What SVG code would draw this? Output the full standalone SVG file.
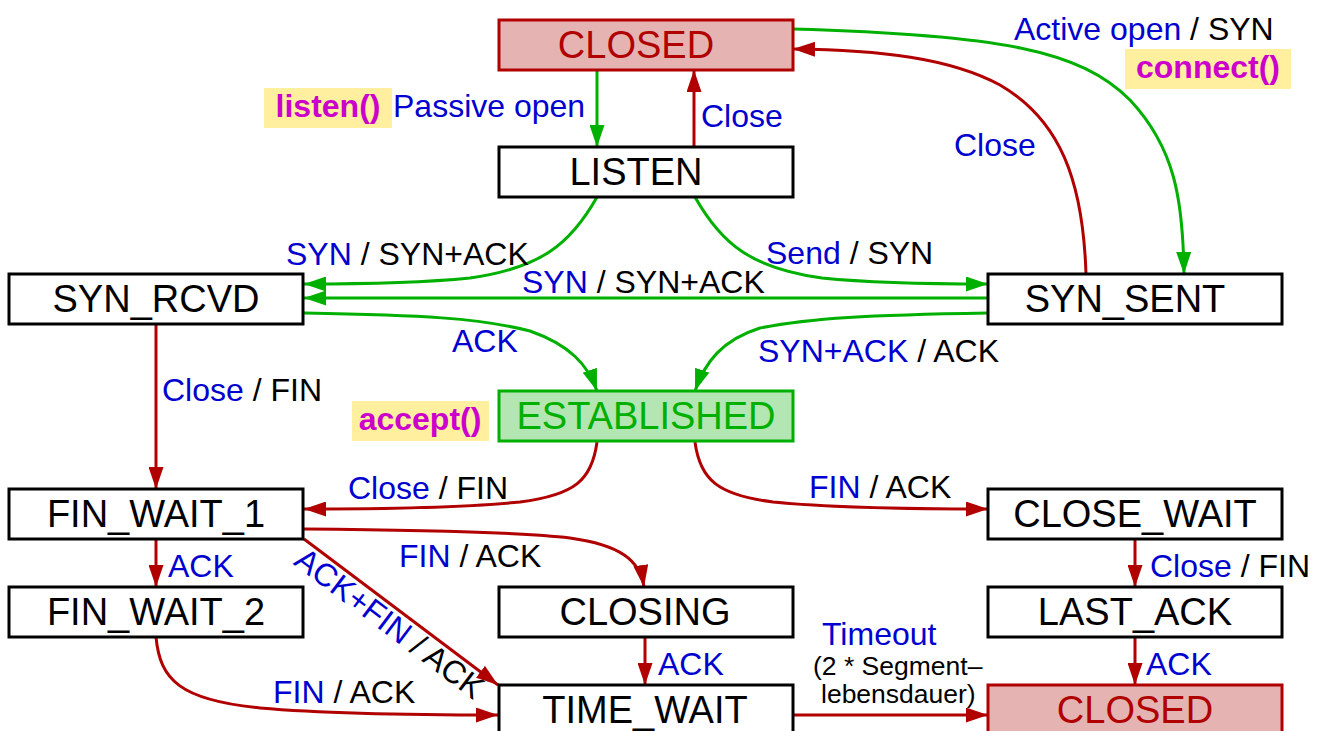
<svg xmlns="http://www.w3.org/2000/svg" width="1329" height="731" viewBox="0 0 1329 731">
  <style>
    text { font-family: "Liberation Sans", Arial, Helvetica, sans-serif; }
    .state { fill: #ffffff; stroke: #000000; stroke-width: 3; }
    .closed { fill: #e6b3b3; stroke: #b00000; stroke-width: 3; }
    .est { fill: #b3e6b3; stroke: #00b000; stroke-width: 3; }
    .name { font-size: 38px; fill: #000000; text-anchor: middle; }
    .name-closed { fill: #b00000; }
    .name-est { fill: #00b000; }
    .lbl { font-size: 32px; fill: #000000; }
    .ev { fill: #0000d0; }
    .api { font-size: 32px; font-weight: bold; fill: #cc00cc; text-anchor: middle; }
    .hl { fill: #ffef9f; }
    .small { font-size: 26.5px; fill: #000000; }
    .red { fill: none; stroke: #b00000; stroke-width: 3; marker-end: url(#ahRed); }
    .green { fill: none; stroke: #00b000; stroke-width: 3; marker-end: url(#ahGreen); }
  </style>
  <defs>
    <marker id="ahRed" markerUnits="userSpaceOnUse" markerWidth="22" markerHeight="15" refX="22" refY="7.5" orient="auto">
      <path d="M0,0 L22,7.5 L0,15 z" fill="#b00000"/>
    </marker>
    <marker id="ahGreen" markerUnits="userSpaceOnUse" markerWidth="22" markerHeight="15" refX="22" refY="7.5" orient="auto">
      <path d="M0,0 L22,7.5 L0,15 z" fill="#00b000"/>
    </marker>
  </defs>

  <rect width="1329" height="731" fill="#ffffff"/>

  <!-- transitions -->
  <g id="connectors">
    <path class="green" d="M597,70 L597,147"/>
    <path class="red" d="M694,147 L694,70"/>
    <path class="green" d="M793,29 C1000,35 1080,50 1130,100 C1175,148 1183,200 1184,274"/>
    <path class="red" d="M1086,274 C1083,180 1060,120 1000,85 C950,58 880,50 793,49"/>
    <path class="green" d="M597,197 C570,245 540,268 470,278 C420,283 360,284 304,284"/>
    <path class="green" d="M695,197 C722,245 752,268 822,278 C872,283 930,284 988,284"/>
    <path class="green" d="M988,298 L304,298"/>
    <path class="green" d="M304,313 C420,315 480,318 530,331 C570,345 588,365 597,391"/>
    <path class="green" d="M988,313 C870,315 810,318 760,328 C722,340 705,362 695,391"/>
    <path class="red" d="M156,323 L156,489"/>
    <path class="red" d="M597,442 C592,480 575,495 520,502 C470,507 380,509 304,509"/>
    <path class="red" d="M695,442 C700,480 718,495 773,502 C823,507 910,509 988,509"/>
    <path class="red" d="M156,539 L156,587"/>
    <path class="red" d="M304,529 C420,530 520,532 570,538 C620,545 640,560 644,587"/>
    <path class="red" d="M304,539 L498,685"/>
    <path class="red" d="M156,637 C160,680 180,700 260,708 C330,714 420,715 498,715"/>
    <path class="red" d="M645,637 L645,685"/>
    <path class="red" d="M793,715 L988,715"/>
    <path class="red" d="M1135,539 L1135,587"/>
    <path class="red" d="M1135,637 L1135,685"/>
  </g>

  <!-- transition labels -->
  <g id="labels">
    <rect class="hl" x="264" y="88" width="128" height="40"/>
    <text class="api" x="328" y="117">listen()</text>
    <text class="lbl ev" x="393" y="117">Passive open</text>
    <text class="lbl ev" x="701" y="127">Close</text>
    <text class="lbl" x="1014" y="40"><tspan class="ev">Active open</tspan> / SYN</text>
    <rect class="hl" x="1125" y="49" width="166" height="40"/>
    <text class="api" x="1208" y="78">connect()</text>
    <text class="lbl ev" x="954" y="156">Close</text>
    <text class="lbl" x="286" y="265"><tspan class="ev">SYN</tspan> / SYN+ACK</text>
    <text class="lbl" x="766" y="264"><tspan class="ev">Send</tspan> / SYN</text>
    <text class="lbl" x="522" y="293"><tspan class="ev">SYN</tspan> / SYN+ACK</text>
    <text class="lbl ev" x="452" y="352">ACK</text>
    <text class="lbl" x="758" y="362"><tspan class="ev">SYN+ACK</tspan> / ACK</text>
    <text class="lbl" x="162" y="401"><tspan class="ev">Close</tspan> / FIN</text>
    <rect class="hl" x="352" y="401" width="137" height="40"/>
    <text class="api" x="420" y="430">accept()</text>
    <text class="lbl" x="348" y="499"><tspan class="ev">Close</tspan> / FIN</text>
    <text class="lbl" x="809" y="498"><tspan class="ev">FIN</tspan> / ACK</text>
    <text class="lbl" x="399" y="567"><tspan class="ev">FIN</tspan> / ACK</text>
    <text class="lbl ev" x="168" y="577">ACK</text>
    <text class="lbl" x="1150" y="577"><tspan class="ev">Close</tspan> / FIN</text>
    <text class="lbl" text-anchor="middle" transform="translate(383,632) rotate(37)"><tspan class="ev">ACK+FIN</tspan> / ACK</text>
    <text class="lbl" x="273" y="703"><tspan class="ev">FIN</tspan> / ACK</text>
    <text class="lbl ev" x="658" y="675">ACK</text>
    <text class="lbl ev" x="1146" y="675">ACK</text>
    <text class="lbl ev" x="822" y="645">Timeout</text>
    <text class="small" x="813" y="675">(2 * Segment–</text>
    <text class="small" x="821" y="703">lebensdauer)</text>
  </g>

  <!-- states -->
  <g id="closed-top">
    <rect class="closed" x="499" y="20" width="294" height="50"/>
    <text class="name name-closed" x="636" y="58">CLOSED</text>
  </g>
  <g id="listen">
    <rect class="state" x="499" y="147" width="294" height="50"/>
    <text class="name" x="636" y="185">LISTEN</text>
  </g>
  <g id="syn-rcvd">
    <rect class="state" x="9" y="274" width="294" height="50"/>
    <text class="name" x="156" y="312">SYN_RCVD</text>
  </g>
  <g id="syn-sent">
    <rect class="state" x="988" y="274" width="294" height="50"/>
    <text class="name" x="1125" y="312">SYN_SENT</text>
  </g>
  <g id="established">
    <rect class="est" x="499" y="391" width="294" height="50"/>
    <text class="name name-est" x="646" y="429">ESTABLISHED</text>
  </g>
  <g id="fin-wait-1">
    <rect class="state" x="9" y="489" width="294" height="50"/>
    <text class="name" x="156" y="527">FIN_WAIT_1</text>
  </g>
  <g id="close-wait">
    <rect class="state" x="988" y="489" width="294" height="50"/>
    <text class="name" x="1135" y="527">CLOSE_WAIT</text>
  </g>
  <g id="fin-wait-2">
    <rect class="state" x="9" y="587" width="294" height="50"/>
    <text class="name" x="156" y="625">FIN_WAIT_2</text>
  </g>
  <g id="closing">
    <rect class="state" x="499" y="587" width="294" height="50"/>
    <text class="name" x="645" y="625">CLOSING</text>
  </g>
  <g id="last-ack">
    <rect class="state" x="988" y="587" width="294" height="50"/>
    <text class="name" x="1135" y="625">LAST_ACK</text>
  </g>
  <g id="time-wait">
    <rect class="state" x="499" y="685" width="294" height="50"/>
    <text class="name" x="645" y="723">TIME_WAIT</text>
  </g>
  <g id="closed-bottom">
    <rect class="closed" x="988" y="685" width="294" height="50"/>
    <text class="name name-closed" x="1135" y="723">CLOSED</text>
  </g>
</svg>
